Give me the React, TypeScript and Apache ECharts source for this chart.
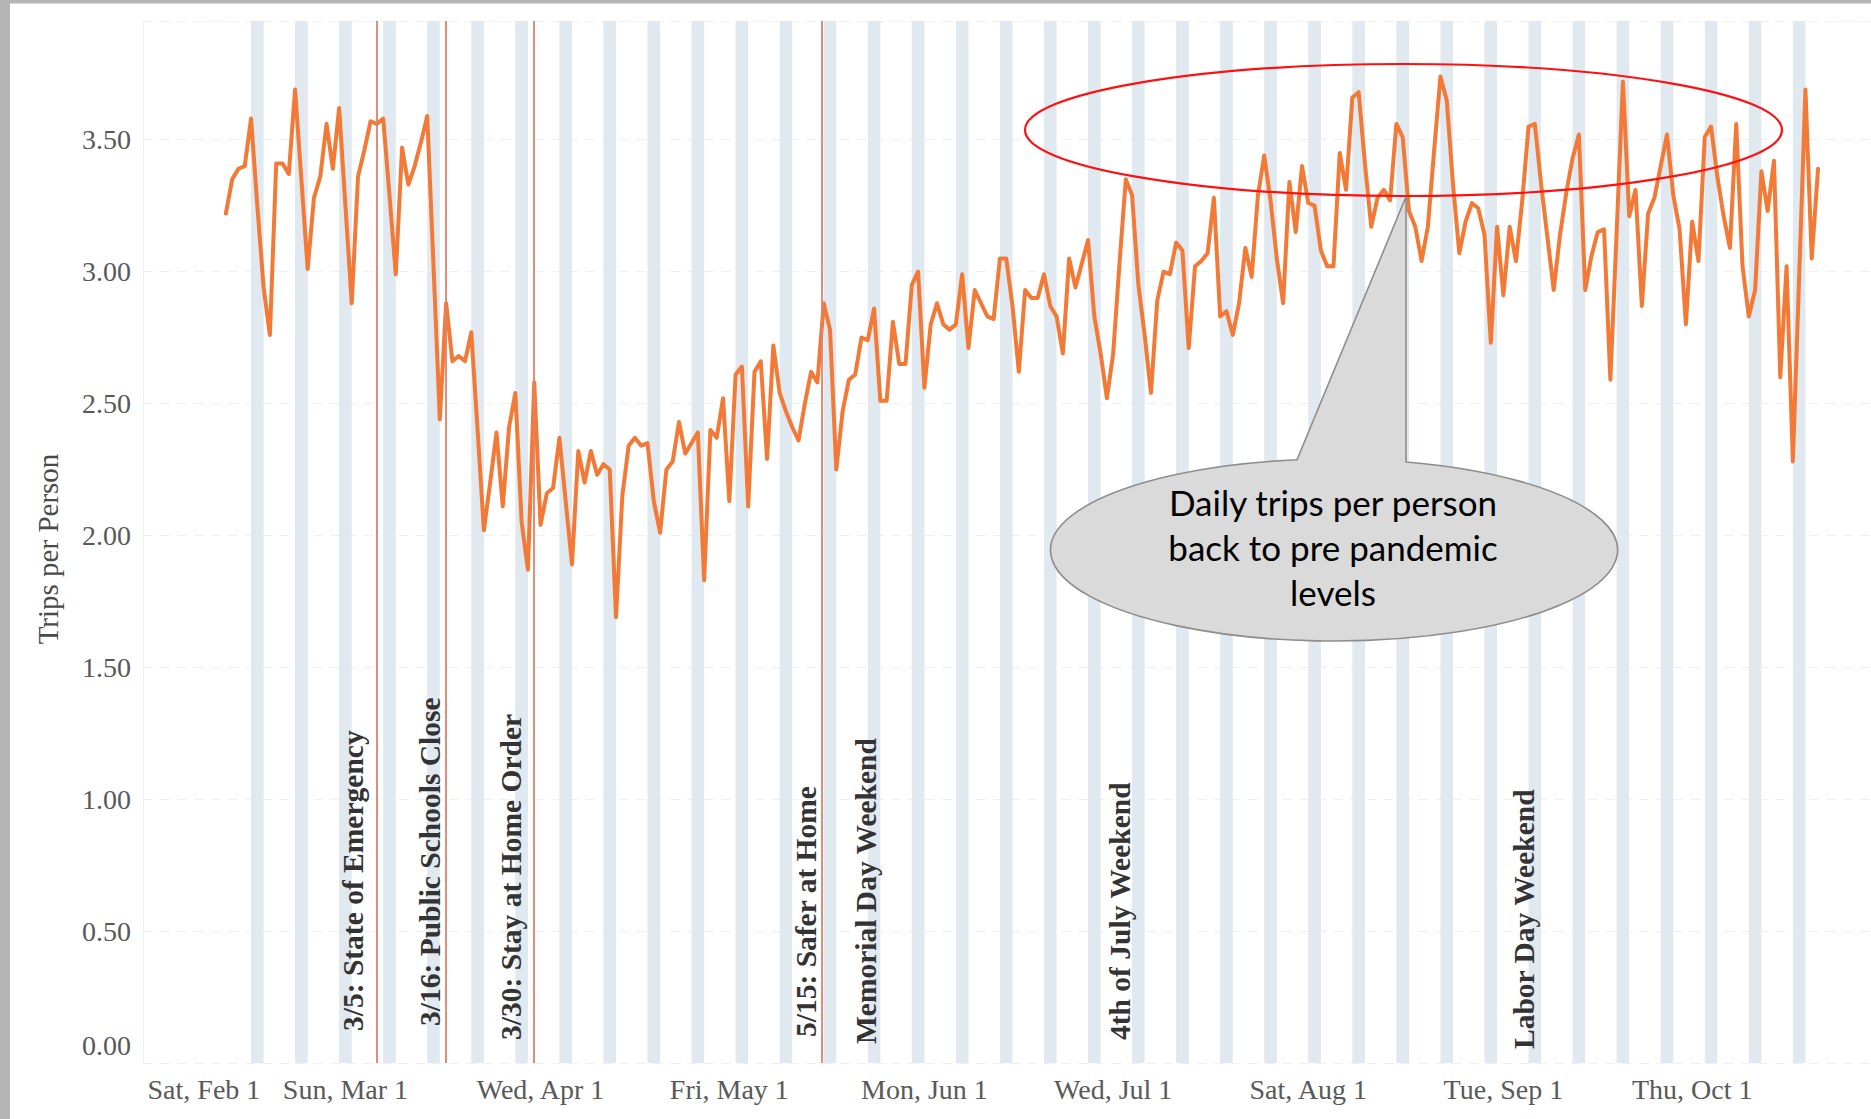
import React, { useEffect, useRef } from 'react';
import * as echarts from 'echarts';

// ---------------- data ----------------
const seriesStartDate = '2020-02-11';
// daily trips per person, one value per day starting at seriesStartDate
const tripsPerPerson = [
  3.22, 3.35, 3.39, 3.40, 3.58, 3.25, 2.94,
  2.76, 3.41, 3.41, 3.37, 3.69, 3.35, 3.01,
  3.28, 3.36, 3.56, 3.39, 3.62, 3.25, 2.88,
  3.36, 3.46, 3.57, 3.56, 3.58, 3.29, 2.99,
  3.47, 3.33, 3.40, 3.49, 3.59, 3.02, 2.44,
  2.88, 2.66, 2.68, 2.66, 2.77, 2.40, 2.02,
  2.20, 2.39, 2.11, 2.41, 2.54, 2.05, 1.87,
  2.58, 2.04, 2.16, 2.18, 2.37, 2.13, 1.89,
  2.32, 2.20, 2.32, 2.23, 2.27, 2.25, 1.69,
  2.15, 2.34, 2.37, 2.34, 2.35, 2.13, 2.01,
  2.25, 2.28, 2.43, 2.31, 2.35, 2.39, 1.83,
  2.40, 2.37, 2.52, 2.13, 2.61, 2.64, 2.11,
  2.62, 2.66, 2.29, 2.72, 2.54, 2.47, 2.41,
  2.36, 2.50, 2.62, 2.58, 2.88, 2.78, 2.25,
  2.47, 2.59, 2.61, 2.75, 2.74, 2.86, 2.51,
  2.51, 2.81, 2.65, 2.65, 2.95, 3.00, 2.56,
  2.80, 2.88, 2.80, 2.78, 2.80, 2.99, 2.71,
  2.93, 2.88, 2.83, 2.82, 3.05, 3.05, 2.87,
  2.62, 2.93, 2.90, 2.90, 2.99, 2.87, 2.83,
  2.69, 3.05, 2.94, 3.03, 3.12, 2.83, 2.69,
  2.52, 2.69, 3.03, 3.35, 3.29, 2.95, 2.76,
  2.54, 2.89, 3.00, 2.99, 3.11, 3.08, 2.71,
  3.02, 3.04, 3.07, 3.28, 2.83, 2.85, 2.76,
  2.88, 3.09, 2.98, 3.29, 3.44, 3.27, 3.05,
  2.88, 3.34, 3.15, 3.40, 3.26, 3.25, 3.08,
  3.02, 3.02, 3.45, 3.31, 3.66, 3.68, 3.41,
  3.17, 3.28, 3.31, 3.27, 3.56, 3.51, 3.23,
  3.17, 3.04, 3.17, 3.46, 3.74, 3.65, 3.33,
  3.07, 3.19, 3.26, 3.24, 3.14, 2.73, 3.17,
  2.91, 3.17, 3.04, 3.27, 3.55, 3.56, 3.33,
  3.13, 2.93, 3.14, 3.30, 3.43, 3.52, 2.93,
  3.06, 3.15, 3.16, 2.59, 3.15, 3.72, 3.21,
  3.31, 2.87, 3.22, 3.28, 3.40, 3.52, 3.29,
  3.16, 2.80, 3.19, 3.04, 3.51, 3.55, 3.36,
  3.21, 3.09, 3.56, 3.02, 2.83, 2.93, 3.38,
  3.23, 3.42, 2.60, 3.02, 2.28, 2.98, 3.69,
  3.05, 3.39,
];

const monthTickDates = ['2020-02-01', '2020-03-01', '2020-04-01', '2020-05-01', '2020-06-01', '2020-07-01', '2020-08-01', '2020-09-01', '2020-10-01'];
const monthTickLabels = ['Sat, Feb 1', 'Sun, Mar 1', 'Wed, Apr 1', 'Fri, May 1', 'Mon, Jun 1', 'Wed, Jul 1', 'Sat, Aug 1', 'Tue, Sep 1', 'Thu, Oct 1'];

const policyEventLabels = ['3/5: State of Emergency', '3/16: Public Schools Close', '3/30: Stay at Home Order', '5/15: Safer at Home'];
const policyEventDates = ['2020-03-06 00', '2020-03-17 00', '2020-03-31 00', '2020-05-15 15'];

const holidayLabels = ['Memorial Day Weekend', '4th of July Weekend', 'Labor Day Weekend'];
const holidayDates = ['2020-05-25', '2020-07-04', '2020-09-07'];

const yAxisTitle = 'Trips per Person';
const calloutText = ['Daily trips per person', 'back to pre pandemic', 'levels'];

const axisMinDate = '2020-01-28 20';
const axisMaxDate = '2020-10-29 10';

// ---------------- layout / style ----------------
const W = 1871;
const H = 1119;
const SERIF = '"Liberation Serif", "Times New Roman", serif';
const LABEL_GRAY = '#595959';
const policyLabelLayout = [
  { dx: -23.5, y: 1031 },
  { dx: -16.2, y: 1026 },
  { dx: -23.6, y: 1040 },
  { dx: -15.5, y: 1037 },
];
const holidayLabelLayout = [
  { dx: -14.7, y: 1044 },
  { dx: -12.3, y: 1040 },
  { dx: -17.4, y: 1049 },
];

echarts.graphic.registerShape(
  'calloutBubble',
  echarts.graphic.extendPath('M1297,459.8 L1406,196.7 L1406,462 A283.5,91 0 1 1 1297,459.8 Z', {})
);

function ts(s: string): number {
  const [d, h] = s.split(' ');
  const [Y, M, D] = d.split('-').map(Number);
  return new Date(Y, M - 1, D, h ? Number(h) : 0).getTime();
}

export default function App() {
  const ref = useRef<HTMLDivElement>(null);

  useEffect(() => {
    if (!ref.current) return;
    const chart = echarts.init(ref.current, null, { renderer: 'svg' });

    const [sy, sm, sd] = seriesStartDate.split('-').map(Number);
    const dayDates = tripsPerPerson.map((_, i) => new Date(sy, sm - 1, sd + i));
    const lineData = dayDates.map((d, i) => [d.getTime(), tripsPerPerson[i]]);

    const weekendAreas = dayDates
      .filter((d) => d.getDay() === 6)
      .map((d) => [
        { xAxis: d.getTime() },
        { xAxis: new Date(d.getFullYear(), d.getMonth(), d.getDate() + 2).getTime() },
      ]);

    const tickTs = monthTickDates.map((s) => ts(s));

    const option: any = {
      animation: false,
      backgroundColor: '#ffffff',
      grid: { left: 143, right: 0, top: 21, bottom: 56, outerBoundsMode: 'none' },
      xAxis: {
        type: 'value',
        min: ts(axisMinDate),
        max: ts(axisMaxDate),
        axisLine: { show: false },
        axisTick: { show: false },
        splitLine: { show: false },
        axisLabel: {
          customValues: tickTs,
          hideOverlap: false,
          margin: 12,
          fontFamily: SERIF,
          fontSize: 28,
          color: LABEL_GRAY,
          formatter: (val: number) => {
            let idx = -1;
            for (let i = 0; i < tickTs.length; i++) {
              if (Math.abs(tickTs[i] - val) < 3600000 * 3) idx = i;
            }
            if (idx < 0) return '';
            return idx === 0 ? '{first|' + monthTickLabels[0] + '}' : monthTickLabels[idx];
          },
          rich: {
            first: { fontFamily: SERIF, fontSize: 28, color: LABEL_GRAY, padding: [0, 0, 0, 82] },
          },
        },
      },
      yAxis: {
        type: 'value',
        min: 0,
        max: 3.95,
        interval: 0.5,
        axisLine: { show: true, lineStyle: { color: '#f0f0f0', width: 1 } },
        axisTick: { show: false },
        splitLine: { show: true, lineStyle: { color: '#f0f0f0', width: 1.2, type: [10, 7] } },
        axisLabel: {
          margin: 12,
          fontFamily: SERIF,
          fontSize: 28,
          color: LABEL_GRAY,
          formatter: (v: number) => (v === 0 ? '{zero|0.00}' : v > 3.6 ? '' : v.toFixed(2)),
          rich: {
            zero: { fontFamily: SERIF, fontSize: 28, color: LABEL_GRAY, padding: [0, 0, 36, 0] },
          },
        },
      },
      series: [
        {
          name: 'weekends',
          type: 'line',
          data: lineData,
          showSymbol: false,
          silent: true,
          z: 1,
          lineStyle: { opacity: 0 },
          markArea: {
            silent: true,
            itemStyle: { color: '#e0e8f0' },
            data: weekendAreas,
          },
        },
        {
          name: 'events',
          type: 'line',
          data: lineData,
          showSymbol: false,
          silent: true,
          z: 2,
          lineStyle: { opacity: 0 },
          markLine: {
            silent: true,
            symbol: ['none', 'none'],
            label: { show: false },
            lineStyle: { color: '#e0806a', width: 1.8, type: 'solid' },
            data: policyEventDates.map((s) => ({ xAxis: ts(s) })),
          },
        },
        {
          name: 'Trips per Person',
          type: 'line',
          data: lineData,
          showSymbol: false,
          z: 3,
          lineStyle: { color: '#f27a36', width: 4, join: 'round', cap: 'round' },
        },
      ],
    };

    chart.setOption(option);

    const px = (t: number) => chart.convertToPixel({ xAxisIndex: 0 } as any, t) as number;

    const textStyleBase = {
      fontFamily: SERIF,
      fontWeight: 'bold',
      fontSize: 29.5,
      fill: '#333333',
      align: 'left',
      textAlign: 'left',
      verticalAlign: 'middle',
      textVerticalAlign: 'middle',
    };

    const annotationTexts: any[] = [];
    policyEventLabels.forEach((label, i) => {
      annotationTexts.push({
        type: 'text',
        x: px(ts(policyEventDates[i])) + policyLabelLayout[i].dx,
        y: policyLabelLayout[i].y,
        rotation: Math.PI / 2,
        z: 50,
        silent: true,
        style: { ...textStyleBase, text: label },
      });
    });
    holidayLabels.forEach((label, i) => {
      annotationTexts.push({
        type: 'text',
        x: px(ts(holidayDates[i])) + holidayLabelLayout[i].dx,
        y: holidayLabelLayout[i].y,
        rotation: Math.PI / 2,
        z: 50,
        silent: true,
        style: { ...textStyleBase, text: label },
      });
    });

    const graphics: any[] = [
      ...annotationTexts,
      {
        type: 'text',
        x: 48,
        y: 549,
        rotation: Math.PI / 2,
        z: 50,
        silent: true,
        style: {
          text: yAxisTitle,
          fontFamily: SERIF,
          fontSize: 29,
          fill: '#4a4a4a',
          align: 'center',
          textAlign: 'center',
          verticalAlign: 'middle',
          textVerticalAlign: 'middle',
        },
      },
      {
        type: 'ellipse',
        z: 100,
        silent: true,
        shape: { cx: 1403.5, cy: 130, rx: 378.5, ry: 66 },
        style: { fill: 'none', stroke: '#ff1010', lineWidth: 2.2 },
      },
      {
        type: 'calloutBubble',
        x: 0,
        y: 0,
        z: 100,
        silent: true,
        style: { fill: '#dadada', stroke: '#8d8d8d', lineWidth: 1.6 },
      },
      {
        type: 'text',
        x: 1333,
        y: 547,
        z: 101,
        silent: true,
        style: {
          text: calloutText.join('\n'),
          fontFamily: 'Lato, "Open Sans", sans-serif',
          fontSize: 35,
          lineHeight: 45,
          fill: '#000000',
          align: 'center',
          textAlign: 'center',
          verticalAlign: 'middle',
          textVerticalAlign: 'middle',
        },
      },
      {
        type: 'rect',
        z: 200,
        silent: true,
        shape: { x: 0, y: 0, width: 10, height: H },
        style: { fill: '#b4b4b4' },
      },
      {
        type: 'rect',
        z: 200,
        silent: true,
        shape: { x: 0, y: 0, width: W, height: 3.5 },
        style: { fill: '#b4b4b4' },
      },
    ];

    chart.setOption({ graphic: graphics });

    return () => {
      chart.dispose();
    };
  }, []);

  return (
    <div
      ref={ref}
      style={{ position: 'fixed', left: 0, top: 0, width: W, height: H, background: '#ffffff' }}
    />
  );
}
